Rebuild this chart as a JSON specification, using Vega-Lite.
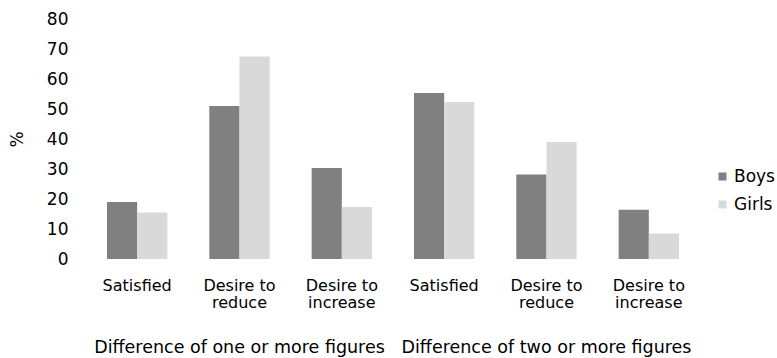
{
  "$schema": "https://vega.github.io/schema/vega-lite/v6.json",
  "padding": {"left": 8, "top": 10, "right": 0, "bottom": 0},
  "data": {
    "values": [
      {"group": "Difference of one or more figures", "response": "Satisfied", "sex": "Boys", "pct": 19.0},
      {"group": "Difference of one or more figures", "response": "Satisfied", "sex": "Girls", "pct": 15.5},
      {"group": "Difference of one or more figures", "response": "Desire to reduce", "sex": "Boys", "pct": 51.0},
      {"group": "Difference of one or more figures", "response": "Desire to reduce", "sex": "Girls", "pct": 67.5},
      {"group": "Difference of one or more figures", "response": "Desire to increase", "sex": "Boys", "pct": 30.3},
      {"group": "Difference of one or more figures", "response": "Desire to increase", "sex": "Girls", "pct": 17.3},
      {"group": "Difference of two or more figures", "response": "Satisfied", "sex": "Boys", "pct": 55.3},
      {"group": "Difference of two or more figures", "response": "Satisfied", "sex": "Girls", "pct": 52.3},
      {"group": "Difference of two or more figures", "response": "Desire to reduce", "sex": "Boys", "pct": 28.2},
      {"group": "Difference of two or more figures", "response": "Desire to reduce", "sex": "Girls", "pct": 39.0},
      {"group": "Difference of two or more figures", "response": "Desire to increase", "sex": "Boys", "pct": 16.4},
      {"group": "Difference of two or more figures", "response": "Desire to increase", "sex": "Girls", "pct": 8.5}
    ]
  },
  "facet": {
    "column": {
      "field": "group",
      "type": "nominal",
      "sort": ["Difference of one or more figures", "Difference of two or more figures"],
      "header": {
        "labelOrient": "bottom",
        "title": null,
        "labelFont": "DejaVu Sans",
        "labelFontSize": 17.5,
        "labelColor": "#000000",
        "labelPadding": 29
      }
    }
  },
  "spacing": 0,
  "spec": {
    "width": 307,
    "height": 240,
    "mark": {"type": "bar"},
    "encoding": {
      "x": {
        "field": "response",
        "type": "nominal",
        "sort": ["Satisfied", "Desire to reduce", "Desire to increase"],
        "scale": {"paddingInner": 0.41, "paddingOuter": 0.205},
        "axis": {
          "title": null,
          "labelAngle": 0,
          "ticks": false,
          "domain": false,
          "labelPadding": 18,
          "labelFont": "DejaVu Sans",
          "labelFontSize": 16,
          "labelColor": "#000000",
          "labelLineHeight": 17,
          "labelExpr": "datum.label == 'Satisfied' ? 'Satisfied' : [slice(datum.label, 0, 9), slice(datum.label, 10)]"
        }
      },
      "xOffset": {"field": "sex", "type": "nominal", "sort": ["Boys", "Girls"]},
      "y": {
        "field": "pct",
        "type": "quantitative",
        "scale": {"domain": [0, 80]},
        "axis": {
          "title": "%",
          "values": [0, 10, 20, 30, 40, 50, 60, 70, 80],
          "grid": false,
          "ticks": false,
          "domain": false,
          "labelPadding": 18,
          "labelFont": "DejaVu Sans",
          "labelFontSize": 17,
          "labelColor": "#000000",
          "titleFont": "DejaVu Sans",
          "titleFontSize": 17,
          "titleFontWeight": "normal",
          "titleColor": "#000000",
          "titlePadding": 20
        }
      },
      "color": {
        "field": "sex",
        "type": "nominal",
        "sort": ["Boys", "Girls"],
        "scale": {"domain": ["Boys", "Girls"], "range": ["#808080", "#d9d9d9"]},
        "legend": {
          "title": null,
          "orient": "none",
          "legendX": 628,
          "legendY": 149,
          "symbolType": "square",
          "symbolSize": 64,
          "symbolStrokeWidth": 0,
          "labelFont": "DejaVu Sans",
          "labelFontSize": 17,
          "labelColor": "#000000",
          "labelOffset": 3,
          "rowPadding": 10
        }
      }
    }
  },
  "config": {"view": {"stroke": null}}
}
